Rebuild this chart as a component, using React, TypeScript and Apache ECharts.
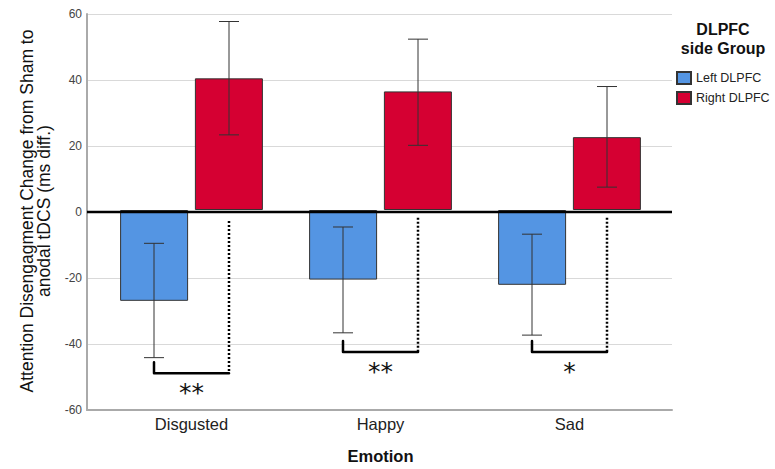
import React, { useEffect, useRef } from "react";
import * as echarts from "echarts";

const categories = ["Disgusted", "Happy", "Sad"];
const leftMeans = [-27.8, -21.3, -22.9];
const rightMeans = [40.3, 36.3, 22.3];
const leftLower = [-45.2, -37.6, -38.3];
const leftUpper = [-10.2, -5.2, -7.4];
const rightLower = [23.0, 19.8, 7.0];
const rightUpper = [57.7, 52.3, 37.8];
const sigLabels = ["**", "**", "*"];
const dottedTops = [-3.4, -2.4, -2.4];
const bracketLevels = [-50, -43.5, -43.5];
const bracketLeftTops = [-46.6, -40.1, -40.1];
const yTicks = { min: -60, max: 60, interval: 20 };

const FONT = "'Liberation Sans', Arial, sans-serif";
const BLUE = "#5495E3";
const RED = "#D50032";
const HALF = 37.5;

export default function App() {
  const ref = useRef<HTMLDivElement>(null);
  useEffect(() => {
    if (!ref.current) return;
    const chart = echarts.init(ref.current, null, { renderer: "svg" });

    const errData = (lo: number[], hi: number[]) => categories.map((_, i) => [i, lo[i], hi[i]]);
    const errSeries = (name: string, lo: number[], hi: number[], off: number) => ({
      type: "custom",
      name: name + "_err",
      xAxisIndex: 1,
      yAxisIndex: 1,
      z: 5,
      silent: true,
      data: errData(lo, hi),
      renderItem: (params: any, api: any) => {
        const c = api.value(0);
        const p1 = api.coord([c, api.value(1)]);
        const p2 = api.coord([c, api.value(2)]);
        const x = p1[0] + off;
        const st = { stroke: "#333", lineWidth: 1 };
        return {
          type: "group",
          children: [
            { type: "line", shape: { x1: x, y1: p1[1], x2: x, y2: p2[1] }, style: st },
            { type: "line", shape: { x1: x - 10, y1: p1[1], x2: x + 10, y2: p1[1] }, style: st },
            { type: "line", shape: { x1: x - 10, y1: p2[1], x2: x + 10, y2: p2[1] }, style: st },
          ],
        };
      },
    });

    const option: any = {
      animation: false,
      textStyle: { fontFamily: FONT },
      grid: [
        { left: 87, top: 14, width: 585, height: 396 },
        { left: 97, top: 14, width: 567, height: 396 },
      ],
      xAxis: [
        {
          gridIndex: 0,
          type: "value",
          min: 0,
          max: 1,
          axisLine: { show: true, onZero: false, lineStyle: { color: "#aaa", width: 2 } },
          axisTick: { show: false },
          axisLabel: { show: false },
          splitLine: { show: false },
        },
        {
          gridIndex: 1,
          type: "category",
          data: categories,
          axisLine: { show: false },
          axisTick: { show: false },
          axisLabel: { color: "#222", fontSize: 16.5, margin: 9, fontFamily: FONT },
          name: "Emotion",
          nameLocation: "middle",
          nameGap: 41,
          nameTextStyle: { fontWeight: "bold", fontSize: 16.5, color: "#111", fontFamily: FONT },
        },
      ],
      yAxis: [
        {
          gridIndex: 0,
          type: "value",
          ...yTicks,
          axisLine: { show: true, lineStyle: { color: "#aaa", width: 2 } },
          axisTick: { show: false },
          axisLabel: { color: "#444", fontSize: 12, margin: 5, fontFamily: FONT },
          splitLine: { lineStyle: { color: "#d9d9d9", width: 1 } },
        },
        {
          gridIndex: 1,
          type: "value",
          ...yTicks,
          show: false,
          splitLine: { show: false },
        },
      ],
      legend: {
        orient: "vertical",
        left: 671,
        top: 66,
        itemWidth: 14,
        itemHeight: 12,
        itemGap: 6,
        icon: "rect",
        data: ["Left DLPFC", "Right DLPFC"],
        textStyle: { fontSize: 12.5, color: "#222", fontFamily: FONT },
      },
      graphic: [
        {
          type: "text",
          x: 35,
          y: 211,
          rotation: Math.PI / 2,
          style: {
            text: "Attention Disengagment Change from Sham to\nanodal tDCS (ms diff.)",
            font: "17.5px " + FONT,
            lineHeight: 17,
            fill: "#111",
            textAlign: "center",
            textVerticalAlign: "middle",
          },
        },
        {
          type: "text",
          x: 723,
          y: 39,
          style: {
            text: "DLPFC\nside Group",
            font: "bold 16px " + FONT,
            lineHeight: 19,
            fill: "#111",
            textAlign: "center",
            textVerticalAlign: "middle",
          },
        },
      ],
      series: [
        {
          type: "line",
          xAxisIndex: 0,
          yAxisIndex: 0,
          data: [
            [0, 0],
            [1, 0],
          ],
          symbol: "none",
          silent: true,
          z: 4,
          lineStyle: { color: "#000", width: 2.5 },
        },
        {
          type: "bar",
          name: "Left DLPFC",
          xAxisIndex: 1,
          yAxisIndex: 1,
          data: leftMeans,
          barWidth: 68,
          barGap: "10%",
          itemStyle: { color: BLUE, borderColor: "#333", borderWidth: 1 },
        },
        {
          type: "bar",
          name: "Right DLPFC",
          xAxisIndex: 1,
          yAxisIndex: 1,
          data: rightMeans,
          barWidth: 68,
          barGap: "10%",
          itemStyle: { color: RED, borderColor: "#333", borderWidth: 1 },
        },
        errSeries("Left DLPFC", leftLower, leftUpper, -HALF),
        errSeries("Right DLPFC", rightLower, rightUpper, HALF),
        {
          type: "custom",
          xAxisIndex: 1,
          yAxisIndex: 1,
          z: 6,
          silent: true,
          data: categories.map((_, i) => [i, dottedTops[i], bracketLevels[i], bracketLeftTops[i]]),
          renderItem: (params: any, api: any) => {
            const c = api.value(0);
            const i = params.dataIndex;
            const top = api.coord([c, api.value(1)]);
            const lvl = api.coord([c, api.value(2)]);
            const lt = api.coord([c, api.value(3)]);
            const xl = top[0] - HALF;
            const xr = top[0] + HALF;
            return {
              type: "group",
              children: [
                {
                  type: "line",
                  shape: { x1: xr, y1: top[1], x2: xr, y2: lvl[1] },
                  style: { stroke: "#000", lineWidth: 2.5, lineDash: [2, 2] },
                },
                {
                  type: "polyline",
                  shape: {
                    points: [
                      [xl, lt[1]],
                      [xl, lvl[1]],
                      [xr, lvl[1]],
                    ],
                  },
                  style: { stroke: "#000", lineWidth: 2.5, fill: null, lineJoin: "round", lineCap: "round" },
                },
                {
                  type: "text",
                  x: top[0],
                  y: lvl[1] + 7,
                  style: {
                    text: sigLabels[i],
                    font: "25px 'DejaVu Sans', sans-serif",
                    fill: "#111",
                    textAlign: "center",
                    textVerticalAlign: "top",
                  },
                },
              ],
            };
          },
        },
      ],
    };
    chart.setOption(option);
    return () => chart.dispose();
  }, []);
  return (
    <div
      ref={ref}
      style={{ position: "fixed", left: 0, top: 0, width: 775, height: 469, background: "#fff" }}
    />
  );
}
